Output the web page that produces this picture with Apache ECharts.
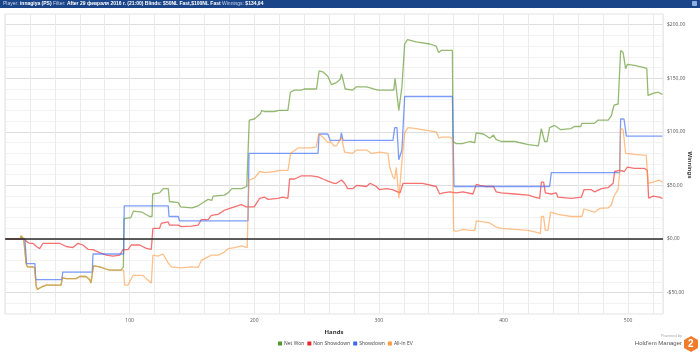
<!DOCTYPE html>
<html>
<head>
<meta charset="utf-8">
<script src="https://cdn.jsdelivr.net/npm/echarts@6/dist/echarts.min.js"></script>
<style>
  html, body { margin: 0; padding: 0; background: #fff; }
  #chart { width: 700px; height: 354px; }
</style>
</head>
<body>
<div id="chart"></div>
<script>
// [hand, winnings]
var netWon = [[1,0],[12,0],[13,3],[15,0],[16,0],[17,-23],[18,-26],[22,-26],[24,-27],[25,-44],[26,-47],[29,-45],[33,-43],[45,-43],[46,-36],[49,-37],[57,-37],[60,-35],[65,-35],[68,-38],[69,-41],[70,-41],[71,-25],[76,-26],[81,-28],[84,-29],[93,-29],[95,-26],[95.5,19],[101,20],[103,26],[110,25],[116,21],[118,21],[118.5,42],[124,43],[127,47],[131,47],
  [132,35],[139,34],[141,30],[150,29],[155,31],[159,34],[163,37],[166,36],[167,40],[176,41],[179,43],[182,47],[190,47],[194,49],[195,48],[196,111],[200,112],[205,117],[206,120],[208,119],[216,119],[220,120],[227,120],[229,137],[232,139],[238,139],[240,140],[250,140],[251,139],[252,157],[255,156],[259,152],[262,144],
  [266,146],[269,149],[270,154],[271,150],[273,140],[279,139],[282,142],[290,142],[293,141],[299,139],[312,139],[313,150],[314.5,150],[316,120],[317,119],[318.5,142],[320.7,182],[323,186],[330,184],[341,182],[346,180],[348,174],[350,176],[359,176],[359.5,91],[362,89],[367,89],[373,91],[377,90],[378,99],[384,98],[389,94],[392,97],
  [394,93],[398,91],[409,91],[420,88],[428,87],[429,86],[430.4,103],[432,103],[433,91],[435,91],[437,104],[441,106],[446,102],[454,103],[457,105],[462,105],[463,108],[465,108],[473,108],[476,111],[484,111],[486.5,115],[488.7,125],[492,126],[494,176],[496,174],[497,173],[498,159],[499.4,163],[505,162],[513,160],[515,159],[516,134],[520,136],[524,137],[527.5,135]];

var nonShowdown = [[1,0],[15.7,0],[17.3,-2.5],[19.7,-4],[22.4,-4],[25.2,-7],[27.8,-9],[30.4,-4],[43.8,-4],[49.2,-7],[54.5,-8],[58.5,-4],[62.5,-5.6],[66.6,-9.6],[70.6,-10],[75.9,-12.7],[81.3,-15],[86.6,-16],[92,-15],[94.6,-10],[98.7,-10],[101.3,-5.6],[108,-5.6],[113.4,-8.7],[117.4,-9.6],[118.7,9.9],[124,9.9],[125.4,14.6],[130.8,16],
  [132,13],[139,13],[141.5,11.5],[149.5,12],[155,13],[157.5,18],[163,18],[165.6,22],[171,23],[176.3,27],[181.6,29],[189.6,32],[193.6,30],[200,30],[204.3,38],[208.4,39],[211,37],[219,38],[223,39],[227,38],[228.4,56],[232.4,56],[237.8,59],[245.8,59],[251.2,58],[255.2,56],[259.2,54],[264,52],
  [266,52],[270,55],[272.5,52],[275,47],[279,47],[282,50],[290,49],[293,52],[298,49],[300.6,46],[306,47],[311,46],[315,44],[317,43],[319.4,52],[324.7,52],[335,52],[346,49],[348.8,42],[351.5,43],[357,44],[362,43],[367.5,44],[375.5,42],[378.2,51],[381,50],[386,49],[392,49],
  [394.2,44],[398.2,43],[409,42],[420,41],[425,39],[429,38],[430.4,53],[432.2,53],[433.6,43],[438.4,42],[442.4,43],[443.7,39],[454.4,38],[462.5,39],[464.6,46],[470.5,46],[473.2,44],[478.5,47],[484,48],[488,52],[489.2,63],[493,64],[497,63],[499.4,67],[505,66],[513,66],[515.4,64],[516.5,38],[520,40],[521,41],[525,39],[527.5,38]];

var showdown = [[1,0],[16,0],[17.3,-23],[24,-23],[24.6,-38],[45.7,-38],[46.3,-31],[70,-31],[70.6,-14],[95.2,-14],[95.7,31],[131,31],[131.6,21],[139,21],[140,17],[195,17],[195.8,80],[251.2,80],[252,98],[259,98],[261,92],[269,92],[269.9,99],[271.2,92],[311.3,92],[312.7,104],[314.5,104],[316,74],[317.5,74],[318.5,83],[320.7,133],[359,133],[360.3,49],[437,49],[438.4,62],[493.2,62],[494,112],[496.7,112],[498.6,96],[527.5,96]];

var allInEV = [[1,0],[12,0],[13,3],[15,0],[16,0],[17,-23],[18,-26],[22,-26],[24,-27],[25,-44],[26,-47],[29,-45],[33,-43],[45,-43],[46,-36],[49,-37],[57,-37],[60,-35],[65,-35],[68,-38],[69,-41],[70,-41],[71,-25],[76,-26],[81,-28],[84,-29],[93,-29],[95.2,-29],
  [96,-43],[98.7,-43],[102.7,-34],[110.7,-34],[113.4,-37],[117.4,-41],[118.2,-41],[118.7,-15],[122.7,-16],[126.8,-14],[130.8,-22],[132.1,-23],[133.5,-26],[141.5,-27],[149.5,-26],[155,-26.5],[157.5,-20],[165.6,-15],[171,-15],[175,-13],[179,-9],[184.3,-8],[189.6,-6.5],[194.4,-8],[195,27],[195.8,55],[200.3,57],[204.3,63],[208.4,62],[216.4,63],[220.4,64],[227.1,64],[229.2,80],[235.1,85],[245.8,85],[249.8,86],[251.7,98],[255.2,95],[259.2,90],[261,91],[264,87],[266,87],
  [270,95],[272.5,81],[279,80],[282,83],[290,83],[294,80],[301,81],[307.3,80],[308.7,67],[311.3,58],[312.7,56],[314,67],[315.3,66],[316.1,38],[317.5,38],[318.8,77],[320.7,99],[323.4,104],[330,103],[340.8,101],[346,100],[348.3,94],[350,95],[357,95],[359,94],[360,8],[362,7],[367.5,9],[373,8],[377,8],[378.2,17],[383.6,16],[389,15],[394.3,11],[398.2,10],[409,9],[419.7,8],[427.7,6],[429.6,5],[430.4,21],[432.2,21],[433.6,8],[435.7,8],[437.8,25],[443.7,23],[454.4,21],[463,21],[464.6,28],[473.2,25],[477.2,28.5],[484,29],[486.5,32],[488.7,40],[491.9,46],[493.2,61],[494,103],[496,102],[498,80],[505,79],[514.6,78],[516,52],[520,53],[525,55],[527.5,53]];

var seriesNames = ['Net Won', 'Non Showdown', 'Showdown', 'All-In EV'];
var legendColors = ['#4f9a2a', '#e8262b', '#3a68f0', '#ff9a3a'];
var lineColors = ['rgba(102,156,52,0.7)', 'rgba(242,52,52,0.7)', 'rgba(70,114,246,0.7)', 'rgba(255,150,60,0.6)'];
var seriesData = [netWon, nonShowdown, showdown, allInEV];

var titleParts = [
  ['Player: ', 'innagiya (PS)'],
  [' Filter: ', 'After 29 февраля 2016 г. (21:00) Blinds: $50NL Fast,$100NL Fast'],
  [' Winnings: ', '$134,94']
];

function money(v) {
  return (v < 0 ? '-' : '') + '$' + Math.abs(v).toFixed(2).replace('.', ',');
}

var chart = echarts.init(document.getElementById('chart'), null, { renderer: 'canvas' });

var titleText = titleParts.map(function (p) {
  return '{l|' + p[0] + '}{v|' + p[1] + '}';
}).join('');

var series = seriesData.map(function (d, i) {
  return {
    name: seriesNames[i],
    type: 'line',
    data: d,
    showSymbol: false,
    symbol: 'none',
    silent: true,
    animation: false,
    itemStyle: { color: legendColors[i] },
    lineStyle: { color: lineColors[i], width: 1.3 }
  };
});
// zero line
series[0].markLine = {
  silent: true,
  symbol: 'none',
  label: { show: false },
  lineStyle: { color: '#2b2b2b', width: 1.6, type: 'solid' },
  data: [{ yAxis: 0 }]
};

var option = {
  backgroundColor: '#fff',
  animation: false,
  textStyle: { fontFamily: 'Open Sans, Liberation Sans, sans-serif' },
  grid: {
    left: 5, right: 37, top: 14, bottom: 40,
    outerBoundsMode: 'none',
    containLabel: false,
    show: true, borderColor: '#e2e2e2', borderWidth: 1
  },
  legend: {
    data: seriesNames,
    left: 273,
    bottom: 3,
    icon: 'rect',
    itemWidth: 4,
    itemHeight: 4,
    itemGap: 3,
    textStyle: { fontSize: 5, color: '#444', padding: [0, 0, 0, -3] }
  },
  xAxis: {
    type: 'value',
    min: 0,
    max: 528,
    interval: 20,
    name: 'Hands',
    nameLocation: 'middle',
    nameGap: 15,
    nameTextStyle: { fontSize: 6, fontWeight: 'bold', color: '#333' },
    axisLine: { show: false },
    axisTick: { show: false },
    axisLabel: {
      fontSize: 5, color: '#555', margin: 4,
      formatter: function (v) { return v % 100 === 0 && v > 0 ? String(v) : ''; }
    },
    splitLine: { show: true, lineStyle: { color: '#ebebeb', width: 1 } }
  },
  yAxis: {
    type: 'value',
    position: 'right',
    min: -70,
    max: 210,
    interval: 10,
    axisLine: { show: false },
    axisTick: { show: false },
    axisLabel: {
      fontSize: 5, color: '#555', margin: 4,
      formatter: function (v) { return v % 50 === 0 ? money(v) : ''; }
    },
    splitLine: {
      show: true,
      lineStyle: { color: ['#f2f2f2', '#f2f2f2', '#dedede', '#f2f2f2', '#f2f2f2'], width: 1 }
    }
  },
  graphic: [
    { type: 'rect', left: 0, top: 0, shape: { width: 700, height: 8 }, style: { fill: '#1b4589' }, silent: true },
    {
      type: 'text', left: 3, top: 1,
      style: {
        text: titleText,
        rich: {
          l: { fontSize: 5, fill: '#c9d6ec', fontFamily: 'Liberation Sans Narrow, Liberation Sans, sans-serif' },
          v: { fontSize: 5, fill: '#ffffff', fontWeight: 'bold', fontFamily: 'Liberation Sans Narrow, Liberation Sans, sans-serif' }
        }
      }
    },
    { type: 'rect', left: 692, top: 1, shape: { width: 5, height: 5, r: 1 }, style: { fill: '#8fb0e0' } },
    {
      type: 'text', x: 690, y: 165, rotation: -Math.PI / 2,
      style: { text: 'Winnings', fontSize: 6, fontWeight: 'bold', fill: '#333', align: 'center', verticalAlign: 'middle' }
    },
    { type: 'text', right: 18, top: 334, style: { text: 'Powered by', fontSize: 4, fill: '#aaa' } },
    { type: 'text', right: 18, top: 340, style: { text: "Hold'em Manager", fontSize: 6, fill: '#555' } },
    {
      type: 'polygon', left: 684, top: 336,
      shape: { points: [[7, 0], [14, 4], [14, 12], [7, 16], [0, 12], [0, 4]] },
      style: { fill: '#f07d2c' }
    },
    { type: 'text', left: 688, top: 339, style: { text: '2', fontSize: 10, fontWeight: 'bold', fill: '#fff' } }
  ],
  series: series
};

chart.setOption(option);
</script>
</body>
</html>
